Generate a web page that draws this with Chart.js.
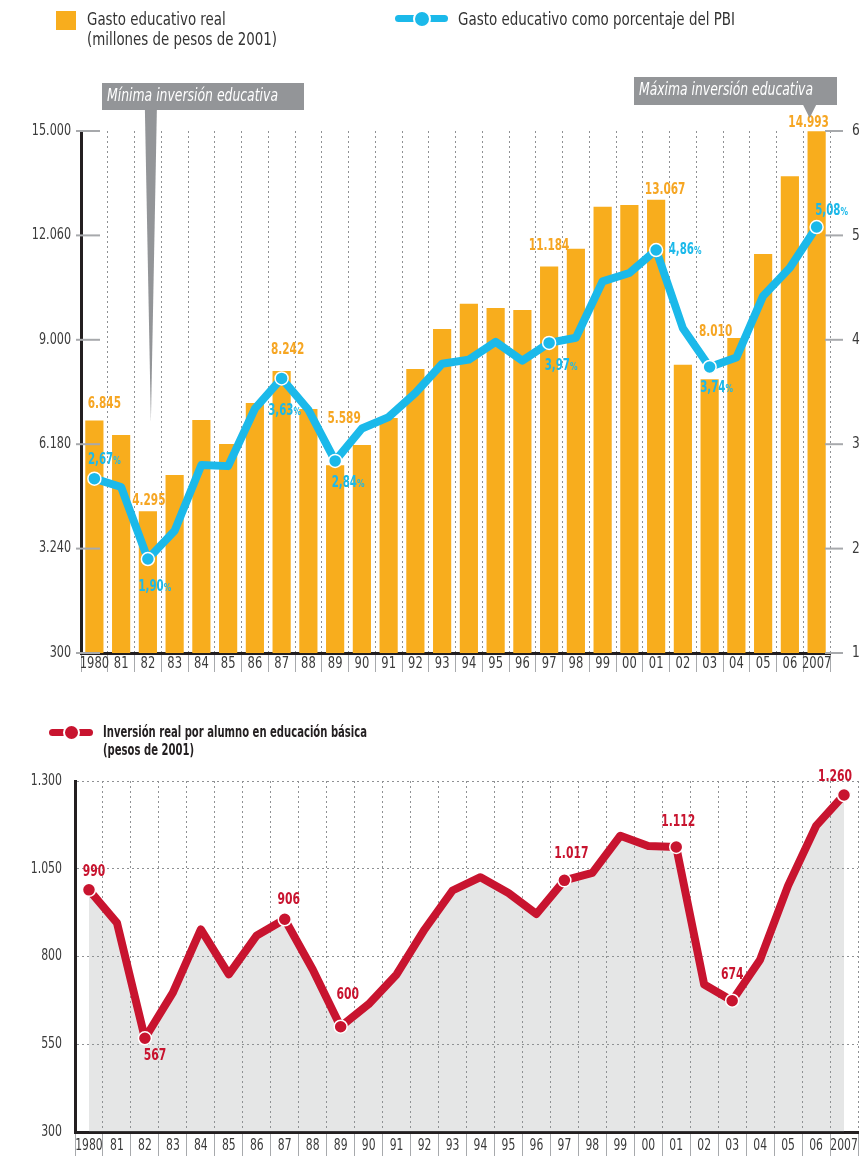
<!DOCTYPE html>
<html>
<head>
<meta charset="utf-8">
<script src="https://cdn.jsdelivr.net/npm/chart.js@4.4.0/dist/chart.umd.min.js"></script>
<style>
  body { margin: 0; background: #fff; width: 868px; height: 1156px; position: relative; overflow: hidden;
         font-family: "DejaVu Sans Condensed", "DejaVu Sans", sans-serif; color: #333; }
  canvas { position: absolute; left: 0; }
  #graficoGasto { top: 0; }
  #graficoAlumno { top: 700px; }
  .leyenda { position: absolute; font-size: 17px; line-height: 20px; color: #333; white-space: nowrap; transform-origin: 0 0; }
  .linea { position: absolute; border-radius: 4px; }
  .punto { position: absolute; border-radius: 50%; border: 2px solid #fff; }
</style>
</head>
<body>
<canvas id="graficoGasto" width="868" height="688"></canvas>
<canvas id="graficoAlumno" width="868" height="456"></canvas>

<!-- leyendas -->
<div style="position:absolute;left:56px;top:11px;width:20px;height:19px;background:#f8ad1d"></div>
<div class="leyenda" data-ancho="190" style="left:87px;top:9px">Gasto educativo real<br>(millones de pesos de 2001)</div>

<div class="linea" style="left:395px;top:15px;width:53px;height:7px;background:#1bb9ea"></div>
<div class="punto" style="left:413px;top:10px;width:14px;height:14px;background:#1bb9ea"></div>
<div class="leyenda" data-ancho="277" style="left:458px;top:9px">Gasto educativo como porcentaje del PBI</div>

<div class="linea" style="left:49px;top:729px;width:44px;height:7px;background:#c8142f"></div>
<div class="punto" style="left:63px;top:724px;width:13px;height:13px;background:#c8142f"></div>
<div class="leyenda" data-ancho="264" style="left:103px;top:723px;font-size:15.5px;line-height:18px;font-weight:bold;color:#231f20">Inversión real por alumno en educación básica<br>(pesos de 2001)</div>

<script>
// Datos
var anios = ['1980', '81', '82', '83', '84', '85', '86', '87', '88', '89', '90', '91', '92', '93',
             '94', '95', '96', '97', '98', '99', '00', '01', '02', '03', '04', '05', '06', '2007'];
var gastoReal = [6845, 6440, 4295, 5310, 6860, 6185, 7340, 8242, 7170, 5589, 6157, 6918, 8297, 9424,
                 10137, 10015, 9959, 11184, 11685, 12868, 12916, 13067, 8419, 8010, 9170, 11536, 13724, 14993];
var pctPBI = [2.67, 2.59, 1.90, 2.17, 2.80, 2.79, 3.34, 3.63, 3.33, 2.84, 3.15, 3.26, 3.49, 3.77,
              3.81, 3.98, 3.80, 3.97, 4.02, 4.56, 4.64, 4.86, 4.11, 3.74, 3.83, 4.42, 4.69, 5.08];
var inversionAlumno = [990, 896, 567, 697, 877, 749, 860, 906, 763, 600, 664, 749, 877, 988,
                       1026, 981, 921, 1017, 1038, 1144, 1115, 1112, 720, 674, 791, 1002, 1172, 1260];
var ticksGasto = ['300', '3.240', '6.180', '9.000', '12.060', '15.000'];
var ticksPct = ['1', '2', '3', '4', '5', '6'];
var ticksAlumno = ['300', '550', '800', '1.050', '1.300'];
// años con valor rotulado
var hitos = [0, 2, 7, 9, 17, 21, 23, 27];

// desplazamiento de los rótulos (px) respecto de la barra / punto
var posGasto = [[10, -17], [1, -10], [6, -21], [9, -46], [0, -21], [9, -10], [6, -47], [-8, -8]];
var posPct = [[10, -19], [7, 28], [3, 33], [13, 22], [12, 23], [29, 0], [7, 21], [15, -16]];
var posAlumno = [[5, -18], [10, 18], [4, -19], [7, -32], [7, -26], [2, -25], [0, -26], [-9, -18]];

var FUENTE = '"DejaVu Sans Condensed", "DejaVu Sans", sans-serif';
var NARANJA = '#f8ad1d', CELESTE = '#1bb9ea', ROJO = '#c8142f', GRIS = '#939598', TEXTO = '#3b3b3b';
Chart.defaults.font.family = FUENTE;
Chart.defaults.animation = false;

// la fuente disponible es más ancha que la del original: se comprime en horizontal
document.querySelectorAll('.leyenda').forEach(function(el) {
  var w = el.getBoundingClientRect().width;
  el.style.transform = 'scaleX(' + (el.dataset.ancho / w) + ')';
});

function miles(v) {
  return String(v).replace(/\B(?=(\d{3})+(?!\d))/g, '.');
}
function radios(n) {
  return anios.map(function(a, i) { return hitos.indexOf(i) >= 0 ? n : 0; });
}
function rotulo(ctx, s, x, y, fuente, color, alinear, esc) {
  ctx.save();
  ctx.font = fuente;
  ctx.fillStyle = color;
  ctx.textAlign = alinear;
  ctx.textBaseline = 'middle';
  ctx.translate(x, y);
  ctx.scale(esc, 1);
  ctx.fillText(s, 0, 0);
  ctx.restore();
}
function porcentaje(ctx, v, x, y) {
  var num = v.toFixed(2).replace('.', ','), esc = 0.76;
  ctx.save();
  ctx.font = 'bold 15px ' + FUENTE;
  var w1 = ctx.measureText(num).width;
  ctx.font = 'bold 11px ' + FUENTE;
  var w2 = ctx.measureText('%').width;
  ctx.translate(x - (w1 + w2) * esc / 2, y);
  ctx.scale(esc, 1);
  ctx.fillStyle = CELESTE;
  ctx.textAlign = 'left';
  ctx.textBaseline = 'middle';
  ctx.font = 'bold 15px ' + FUENTE;
  ctx.fillText(num, 0, 0);
  ctx.font = 'bold 11px ' + FUENTE;
  ctx.fillText('%', w1, 1);
  ctx.restore();
}
function recuadro(ctx, s, x, y, anchoTexto) {
  ctx.save();
  ctx.font = 'italic 17px ' + FUENTE;
  var esc = anchoTexto / ctx.measureText(s).width;
  ctx.restore();
  rotulo(ctx, s, x, y, 'italic 17px ' + FUENTE, '#fff', 'left', esc);
}

// marcas de escala, rótulos y recuadros del primer gráfico
var rotulosGasto = {
  id: 'rotulosGasto',
  afterDraw: function(chart) {
    var ctx = chart.ctx, a = chart.chartArea, x = chart.scales.x, y = chart.scales.y, y1 = chart.scales.y1;
    ctx.save();
    ctx.strokeStyle = '#a7a9ac';
    ctx.lineWidth = 2;
    y.ticks.forEach(function(t, i) {
      var py = y.getPixelForTick(i);
      ctx.beginPath(); ctx.moveTo(a.left - 5, py); ctx.lineTo(a.left + 19, py); ctx.stroke();
      rotulo(ctx, ticksGasto[i], a.left - 10, py, '15px ' + FUENTE, TEXTO, 'right', 0.83);
    });
    y1.ticks.forEach(function(t, i) {
      var py = y1.getPixelForTick(i);
      ctx.beginPath(); ctx.moveTo(a.right - 5, py); ctx.lineTo(a.right + 13, py); ctx.stroke();
      rotulo(ctx, ticksPct[i], a.right + 22, py, '16px ' + FUENTE, TEXTO, 'left', 0.85);
    });
    x.ticks.forEach(function(t, i) {
      rotulo(ctx, anios[i], x.getPixelForTick(i), a.bottom + 11, '16px ' + FUENTE, TEXTO, 'center', 0.8);
    });
    ctx.restore();

    var barras = chart.getDatasetMeta(0).data, puntos = chart.getDatasetMeta(1).data;
    hitos.forEach(function(idx, k) {
      var b = barras[idx];
      rotulo(ctx, miles(gastoReal[idx]), b.x + posGasto[k][0], b.y + posGasto[k][1],
             'bold 16px ' + FUENTE, '#f6a623', 'center', 0.73);
    });
    hitos.forEach(function(idx, k) {
      var p = puntos[idx];
      porcentaje(ctx, pctPBI[idx], p.x + posPct[k][0], p.y + posPct[k][1]);
    });

    // recuadros de mínima y máxima
    ctx.save();
    ctx.fillStyle = GRIS;
    ctx.fillRect(102, 83, 202, 27);
    var sx = x.getPixelForValue(2) + 3;
    ctx.beginPath(); ctx.moveTo(sx - 6, 109); ctx.lineTo(sx + 6, 109); ctx.lineTo(sx, 422); ctx.closePath(); ctx.fill();
    ctx.fillRect(634, 77, 203, 28);
    var mx = x.getPixelForValue(27) - 7;
    ctx.beginPath(); ctx.moveTo(mx - 7, 104); ctx.lineTo(mx + 7, 104); ctx.lineTo(mx, 118); ctx.closePath(); ctx.fill();
    ctx.restore();
    recuadro(ctx, 'Mínima inversión educativa', 107, 97, 171);
    recuadro(ctx, 'Máxima inversión educativa', 639, 91, 174);
  }
};

new Chart(document.getElementById('graficoGasto').getContext('2d'), {
  type: 'bar',
  data: {
    labels: anios,
    datasets: [{
      label: 'Gasto educativo real',
      data: gastoReal,
      backgroundColor: NARANJA,
      barPercentage: 0.68,
      categoryPercentage: 1,
      yAxisID: 'y',
      order: 1
    }, {
      type: 'line',
      label: 'Gasto educativo como porcentaje del PBI',
      data: pctPBI,
      borderColor: CELESTE,
      borderWidth: 8,
      borderJoinStyle: 'round',
      borderCapStyle: 'round',
      pointRadius: radios(6.5),
      pointBackgroundColor: CELESTE,
      pointBorderColor: '#fff',
      pointBorderWidth: 1.5,
      tension: 0,
      yAxisID: 'y1',
      order: 0
    }]
  },
  options: {
    responsive: false,
    layout: { padding: { top: 131, left: 0, right: 0, bottom: 0 } },
    plugins: { legend: { display: false }, tooltip: { enabled: false } },
    scales: {
      x: {
        offset: true,
        afterFit: function(s) { s.height = 35; },
        grid: { color: '#8f9194', lineWidth: 1, tickColor: '#a7a9ac', tickLength: 19, tickWidth: 1, offset: true },
        border: { color: '#231f20', width: 3, dash: [2, 3] },
        ticks: { display: false, autoSkip: false, maxRotation: 0 }
      },
      y: {
        position: 'left',
        min: 300, max: 15000,
        afterFit: function(s) { s.width = 81; },
        grid: { display: false, drawTicks: false },
        border: { color: '#231f20', width: 3 },
        ticks: { display: false, stepSize: 2940 }
      },
      y1: {
        position: 'right',
        min: 1, max: 6,
        afterFit: function(s) { s.width = 38; },
        grid: { display: false, drawTicks: false },
        border: { display: false },
        ticks: { display: false, stepSize: 1 }
      }
    }
  },
  plugins: [rotulosGasto]
});

// rótulos del segundo gráfico
var rotulosAlumno = {
  id: 'rotulosAlumno',
  afterDraw: function(chart) {
    var ctx = chart.ctx, a = chart.chartArea, x = chart.scales.x, y = chart.scales.y;
    y.ticks.forEach(function(t, i) {
      rotulo(ctx, ticksAlumno[i], a.left - 13, y.getPixelForTick(i), '15px ' + FUENTE, TEXTO, 'right', 0.81);
    });
    x.ticks.forEach(function(t, i) {
      rotulo(ctx, anios[i], x.getPixelForTick(i), a.bottom + 14, '15px ' + FUENTE, TEXTO, 'center', 0.8);
    });
    var puntos = chart.getDatasetMeta(0).data;
    hitos.forEach(function(idx, k) {
      var p = puntos[idx];
      rotulo(ctx, miles(inversionAlumno[idx]), p.x + posAlumno[k][0], p.y + posAlumno[k][1],
             'bold 16px ' + FUENTE, ROJO, 'center', 0.75);
    });
  }
};

new Chart(document.getElementById('graficoAlumno').getContext('2d'), {
  type: 'line',
  data: {
    labels: anios,
    datasets: [{
      label: 'Inversión real por alumno en educación básica',
      data: inversionAlumno,
      borderColor: ROJO,
      borderWidth: 8,
      borderJoinStyle: 'round',
      borderCapStyle: 'round',
      backgroundColor: 'rgba(147,149,152,0.24)',
      fill: 'start',
      pointRadius: radios(6.5),
      pointBackgroundColor: ROJO,
      pointBorderColor: '#fff',
      pointBorderWidth: 1.5,
      tension: 0
    }]
  },
  options: {
    responsive: false,
    layout: { padding: { top: 81, left: 0, right: 10, bottom: 0 } },
    plugins: { legend: { display: false }, tooltip: { enabled: false } },
    scales: {
      x: {
        offset: true,
        afterFit: function(s) { s.height = 24; },
        grid: { color: '#8f9194', lineWidth: 1, tickColor: '#a7a9ac', tickLength: 24, tickWidth: 1, offset: true },
        border: { color: '#231f20', width: 3, dash: [2, 3] },
        ticks: { display: false, autoSkip: false, maxRotation: 0 }
      },
      y: {
        min: 300, max: 1300,
        afterFit: function(s) { s.width = 75; },
        grid: { color: '#8f9194', lineWidth: 1, drawTicks: false },
        border: { color: '#231f20', width: 3, dash: [2, 3] },
        ticks: { display: false, stepSize: 250 }
      }
    }
  },
  plugins: [rotulosAlumno]
});
</script>
</body>
</html>
